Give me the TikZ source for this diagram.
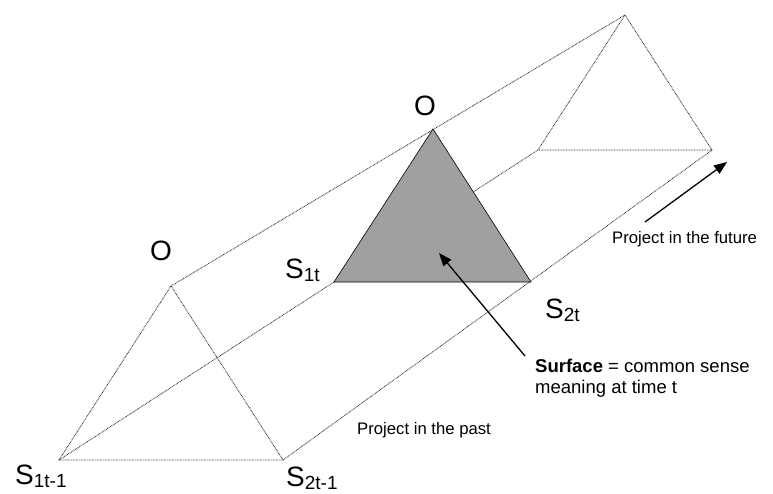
\documentclass[tikz,border=0pt]{standalone}
\usepackage{fontspec}
\setmainfont{Liberation Sans}
\usetikzlibrary{arrows.meta}
\definecolor{surf}{RGB}{160,160,160}
\newcommand{\Slab}[1]{S{\fontsize{19}{19}\selectfont\raisebox{-3pt}{#1}}}
\begin{document}
\begin{tikzpicture}[x=1pt,y=-1pt,
  dotline/.style={line width=0.8pt, black!85, dash pattern=on 0.8pt off 0.8pt},
  arr/.style={line width=1.3pt, -{Triangle[length=13pt,width=10pt]}},
  big/.style={font=\fontsize{28}{28}\selectfont, inner sep=0pt},
  small/.style={font=\fontsize{16.7}{20}\selectfont, inner sep=0pt},
  mid/.style={font=\fontsize{18.5}{21}\selectfont, inner sep=0pt}]
\useasboundingbox (0,0) rectangle (773,493);
\coordinate (Op) at (171,286);
\coordinate (Ap) at (59,460);
\coordinate (Bp) at (283,460);
\coordinate (O) at (433,129);
\coordinate (A) at (334,282);
\coordinate (B) at (531,282);
\coordinate (Of) at (625,15);
\coordinate (Af) at (538,150);
\coordinate (Bf) at (712,150);
\draw[dotline] (Op)--(Ap)--(Bp)--cycle;
\draw[dotline] (Of)--(Af)--(Bf)--cycle;
\draw[dotline] (Op)--(Of);
\draw[dotline] (Ap)--(Af);
\draw[dotline] (Bp)--(Bf);
\filldraw[fill=surf, draw=black, line width=0.6pt] (O)--(A)--(B)--cycle;
\node[big] (lOp) at (161,251) {O};
\node[big] (lO) at (425,106) {O};
\node[big, anchor=base west] (lA) at (285,278) {\Slab{1t}};
\node[big, anchor=base west] (lB) at (545,318) {\Slab{2t}};
\node[big, anchor=base west] (lAp) at (15,484) {\Slab{1t-1}};
\node[big, anchor=base west] (lBp) at (286,486) {\Slab{2t-1}};
\node[small, anchor=base west] (fut) at (612,243) {Project in the future};
\node[small, anchor=base west] (past) at (357,434) {Project in the past};
\node[mid, anchor=base west] (surf1) at (535,372) {\textbf{Surface} = common sense};
\node[mid, anchor=base west] (surf2) at (535,393) {meaning at time t};
\coordinate (sT) at (525,356);
\coordinate (sH) at (439,253);
\draw[arr] (sT) -- (sH);
\coordinate (fT) at (645,222);
\coordinate (fH) at (727,162);
\draw[arr] (fT) -- (fH);
\end{tikzpicture}
\end{document}
